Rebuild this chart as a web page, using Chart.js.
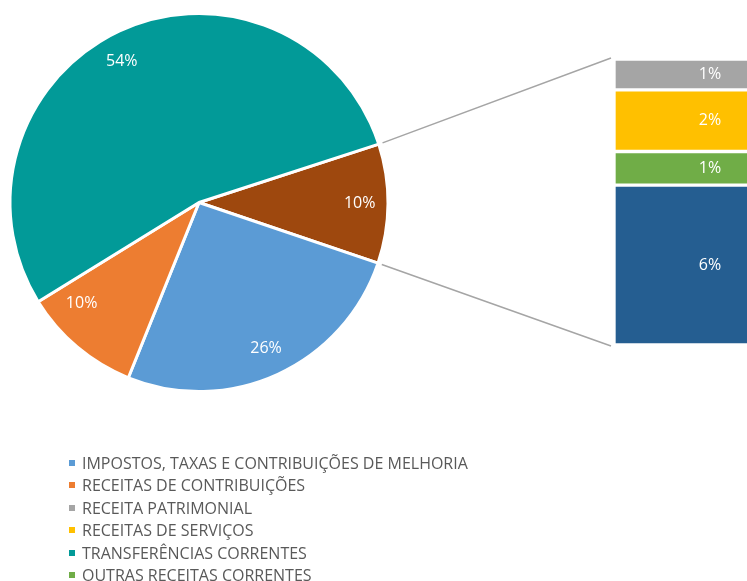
<!DOCTYPE html>
<html>
<head>
<meta charset="utf-8">
<script src="https://cdn.jsdelivr.net/npm/chart.js@4"></script>
<style>
  html, body { margin: 0; padding: 0; background: #fff; overflow: hidden; }
  #wrap { position: relative; width: 747px; height: 581px; overflow: hidden; }
  #wrap canvas { position: absolute; left: 0; top: 0; }
  #legend { position: absolute; left: 69px; top: 452px; margin: 0; padding: 0; list-style: none;
            font-family: 'Open Sans', sans-serif; font-size: 16px; color: #595959; }
  #legend li { height: 22.4px; line-height: 22.4px; white-space: nowrap; }
  #legend span { display: inline-block; width: 6px; height: 6px; margin-right: 7px; vertical-align: 3px; }
</style>
</head>
<body>
<div id="wrap">
  <canvas id="pie" width="747" height="581"></canvas>
  <canvas id="bar" width="810" height="581"></canvas>
  <ul id="legend"></ul>
</div>
<script>
// categories in legend order
const categories = [
    'IMPOSTOS, TAXAS E CONTRIBUIÇÕES DE MELHORIA',
    'RECEITAS DE CONTRIBUIÇÕES',
    'RECEITA PATRIMONIAL',
    'RECEITAS DE SERVIÇOS',
    'TRANSFERÊNCIAS CORRENTES',
    'OUTRAS RECEITAS CORRENTES',
    'RECEITAS DE CAPITAL'
];
// share of total revenue (%)
const values = [25.9, 10.1, 1.1, 2.2, 53.8, 1.2, 5.7];
const colors = ['#5b9bd5', '#ed7d31', '#a5a5a5', '#ffc000', '#029a98', '#70ad47', '#255e91'];

// which categories go to the pie, and which are split out into the bar
const pieItems = [0, 1, 4];
const barItems = [6, 5, 3, 2];   // stacked bottom -> top
const otherColor = '#9e480e';

(() => {
    'use strict'

    const total = values.reduce((a, b) => a + b, 0);
    const otherValue = barItems.reduce((s, i) => s + values[i], 0);
    const pct = v => Math.round(v / total * 100) + '%';

    // pie order: "other" slice first so it sits on the right side
    const pieValues = [otherValue].concat(pieItems.map(i => values[i]));
    const pieColors = [otherColor].concat(pieItems.map(i => colors[i]));
    const pieLabels = ['OUTROS'].concat(pieItems.map(i => categories[i]));

    const labelFont = '16px "Open Sans", sans-serif';
    // where the label sits across each slice (0 = start angle, 1 = end angle)
    const labelSpot = [0.5, 0.5, 0.75, 0.48];

    const pieLabelPlugin = {
        id: 'pieLabels',
        afterDatasetsDraw(chart) {
            const ctx = chart.ctx;
            const meta = chart.getDatasetMeta(0);
            ctx.save();
            ctx.font = labelFont;
            ctx.fillStyle = '#fff';
            ctx.textAlign = 'center';
            ctx.textBaseline = 'middle';
            meta.data.forEach((arc, i) => {
                const a = arc.startAngle + (arc.endAngle - arc.startAngle) * labelSpot[i];
                const r = arc.outerRadius * (i === 2 ? 0.82 : 0.85);
                ctx.fillText(pct(pieValues[i]), arc.x + Math.cos(a) * r, arc.y + Math.sin(a) * r);
            });
            ctx.restore();
        }
    };

    const pieChart = new Chart(document.getElementById('pie'), {
        type: 'pie',
        data: {
            labels: pieLabels,
            datasets: [{
                data: pieValues,
                backgroundColor: pieColors,
                borderColor: '#fff',
                borderWidth: 3
            }]
        },
        options: {
            responsive: false,
            animation: false,
            rotation: 72,
            layout: { padding: { left: 8, top: 12, right: 357, bottom: 188 } },
            plugins: {
                legend: { display: false },
                tooltip: { enabled: false }
            }
        },
        plugins: [pieLabelPlugin]
    });

    const barLabelPlugin = {
        id: 'barLabels',
        afterDatasetsDraw(chart) {
            const ctx = chart.ctx;
            ctx.save();
            ctx.font = labelFont;
            ctx.fillStyle = '#fff';
            ctx.textAlign = 'center';
            ctx.textBaseline = 'middle';
            chart.data.datasets.forEach((ds, d) => {
                const el = chart.getDatasetMeta(d).data[0];
                ctx.fillText(pct(ds.data[0]), el.x, (el.y + el.base) / 2);
            });
            ctx.restore();
        }
    };

    // connector lines from the "other" slice to the bar
    const connectorPlugin = {
        id: 'connectors',
        afterDraw(chart) {
            const arc = pieChart.getDatasetMeta(0).data[0];
            const n = chart.data.datasets.length;
            const topEl = chart.getDatasetMeta(n - 1).data[0];
            const botEl = chart.getDatasetMeta(0).data[0];
            const left = topEl.x - topEl.width / 2 - 3;
            const r = arc.outerRadius + 4;
            const ctx = chart.ctx;
            ctx.save();
            ctx.strokeStyle = '#a5a5a5';
            ctx.lineWidth = 1.5;
            ctx.beginPath();
            ctx.moveTo(arc.x + Math.cos(arc.startAngle) * r, arc.y + Math.sin(arc.startAngle) * r);
            ctx.lineTo(left, topEl.y - 1);
            ctx.moveTo(arc.x + Math.cos(arc.endAngle) * r, arc.y + Math.sin(arc.endAngle) * r);
            ctx.lineTo(left, botEl.base + 1);
            ctx.stroke();
            ctx.restore();
        }
    };

    new Chart(document.getElementById('bar'), {
        type: 'bar',
        data: {
            labels: [''],
            datasets: barItems.map(i => ({
                label: categories[i],
                data: [values[i]],
                backgroundColor: colors[i],
                borderColor: '#fff',
                borderWidth: 2,
                borderSkipped: false,
                barPercentage: 1,
                categoryPercentage: 1
            }))
        },
        options: {
            responsive: false,
            animation: false,
            layout: { padding: { left: 614, top: 59, right: 4, bottom: 236 } },
            scales: {
                x: { stacked: true, display: false },
                y: { stacked: true, display: false, min: 0, max: otherValue }
            },
            plugins: {
                legend: { display: false },
                tooltip: { enabled: false }
            }
        },
        plugins: [barLabelPlugin, connectorPlugin]
    });

    // legend list
    const legend = document.getElementById('legend');
    categories.forEach((name, i) => {
        const li = document.createElement('li');
        const box = document.createElement('span');
        box.style.background = colors[i];
        li.appendChild(box);
        li.appendChild(document.createTextNode(name));
        legend.appendChild(li);
    });
})()
</script>
</body>
</html>
